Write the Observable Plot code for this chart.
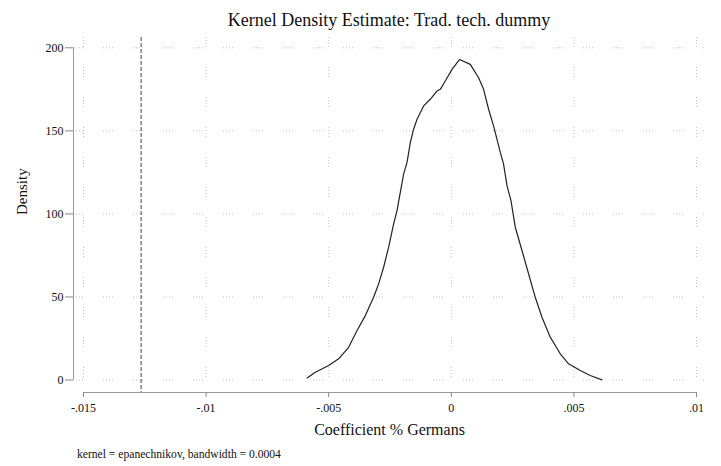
<!DOCTYPE html>
<html><head><meta charset="utf-8">
<script src="https://cdn.jsdelivr.net/npm/d3@7"></script>
<script src="https://cdn.jsdelivr.net/npm/@observablehq/plot@0.6"></script>
<style>
body{margin:0;background:#fff;font-family:"Liberation Serif","DejaVu Serif",serif;color:#111;}
#wrap{width:721px;height:466px;position:relative;overflow:hidden;}
#title{height:37px;width:778px;text-align:center;font-size:18px;line-height:41px;}
#chart svg{display:block;}
#caption{position:absolute;left:77px;top:448px;font-size:11.6px;line-height:14px;}
</style></head><body>
<div id="wrap">
<div id="title">Kernel Density Estimate: Trad. tech. dummy</div>
<div id="chart"></div>
<div id="caption">kernel = epanechnikov, bandwidth = 0.0004</div>
</div>
<script>
// Density curve
const coef = [-0.005883,-0.005544,-0.005002,-0.004594,-0.004187,-0.003844,-0.003506,-0.003168,-0.002964,-0.002760,-0.002556,-0.002352,-0.002214,-0.001945,-0.001806,-0.001671,-0.001537,-0.001398,-0.001129,-0.000856,-0.000583,-0.000448,-0.000245,0.000029,0.000338,0.000775,0.001113,0.001317,0.001521,0.001724,0.001998,0.002132,0.002271,0.002434,0.002609,0.002882,0.003151,0.003424,0.003698,0.004036,0.004444,0.004782,0.005259,0.005667,0.006143];
const density = [1.3,4.7,8.7,12.8,19.7,29.8,38.8,49.8,57.9,67.9,80,94,102,124,131,143,151,157,165,169,174,175,180,187,193,190,182,175,163,153,137,130,117,108,92,78,64,49.8,37.8,25.8,15.8,9.8,5.7,2.7,0.1];
const refLine = [-0.01265];
const xTicks = [-0.015,-0.01,-0.005,0,0.005,0.01];
const xTickLabels = ["-.015","-.01","-.005","0",".005",".01"];
const yTicks = [0,50,100,150,200];

const data = coef.map((c,i)=>({x:c,y:density[i]}));
const xDomain = [-0.015408, 0.010367];
const yDomain = [-7.5, 206.2];
const gridDash = "1,2,1,2,1,2,1,20";

const chart = Plot.plot({
  width: 721, height: 409,
  marginTop: 0, marginLeft: 73, marginRight: 16, marginBottom: 54,
  style: {fontFamily: "'Liberation Serif', 'DejaVu Serif', serif", fontSize: "12px", color: "#111", background: "#fff"},
  x: {domain: xDomain},
  y: {domain: yDomain},
  marks: [
    Plot.ruleY(yTicks, {stroke: "#bdbdbd", strokeDasharray: gridDash}),
    Plot.ruleX(xTicks, {stroke: "#bdbdbd", strokeDasharray: gridDash}),
    Plot.ruleX([xDomain[0]], {y1: yTicks[0], y2: yTicks[yTicks.length-1], stroke: "#999"}),
    Plot.ruleY([yDomain[0]], {x1: xTicks[0], x2: xTicks[xTicks.length-1], stroke: "#999"}),
    Plot.axisY({ticks: yTicks, tickSize: 8, tickPadding: 2, stroke: "#888", tickFormat: d => String(d), label: null, fontSize: 12}),
    Plot.axisX({ticks: xTicks, tickSize: 5, tickPadding: 6, stroke: "#888", tickFormat: (d,i) => xTickLabels[xTicks.indexOf(d)], label: null, fontSize: 12}),
    Plot.text(["Density"], {frameAnchor: "left", rotate: -90, dx: -51, fontSize: 15, fill: "#111"}),
    Plot.text(["Coefficient % Germans"], {frameAnchor: "bottom", dy: 42, fontSize: 16, fill: "#111"}),
    Plot.ruleX(refLine, {stroke: "#444", strokeDasharray: "4,2"}),
    Plot.line(data, {x: "x", y: "y", stroke: "#222", strokeWidth: 1.2})
  ]
});
document.getElementById("chart").appendChild(chart);
</script>
</body></html>
